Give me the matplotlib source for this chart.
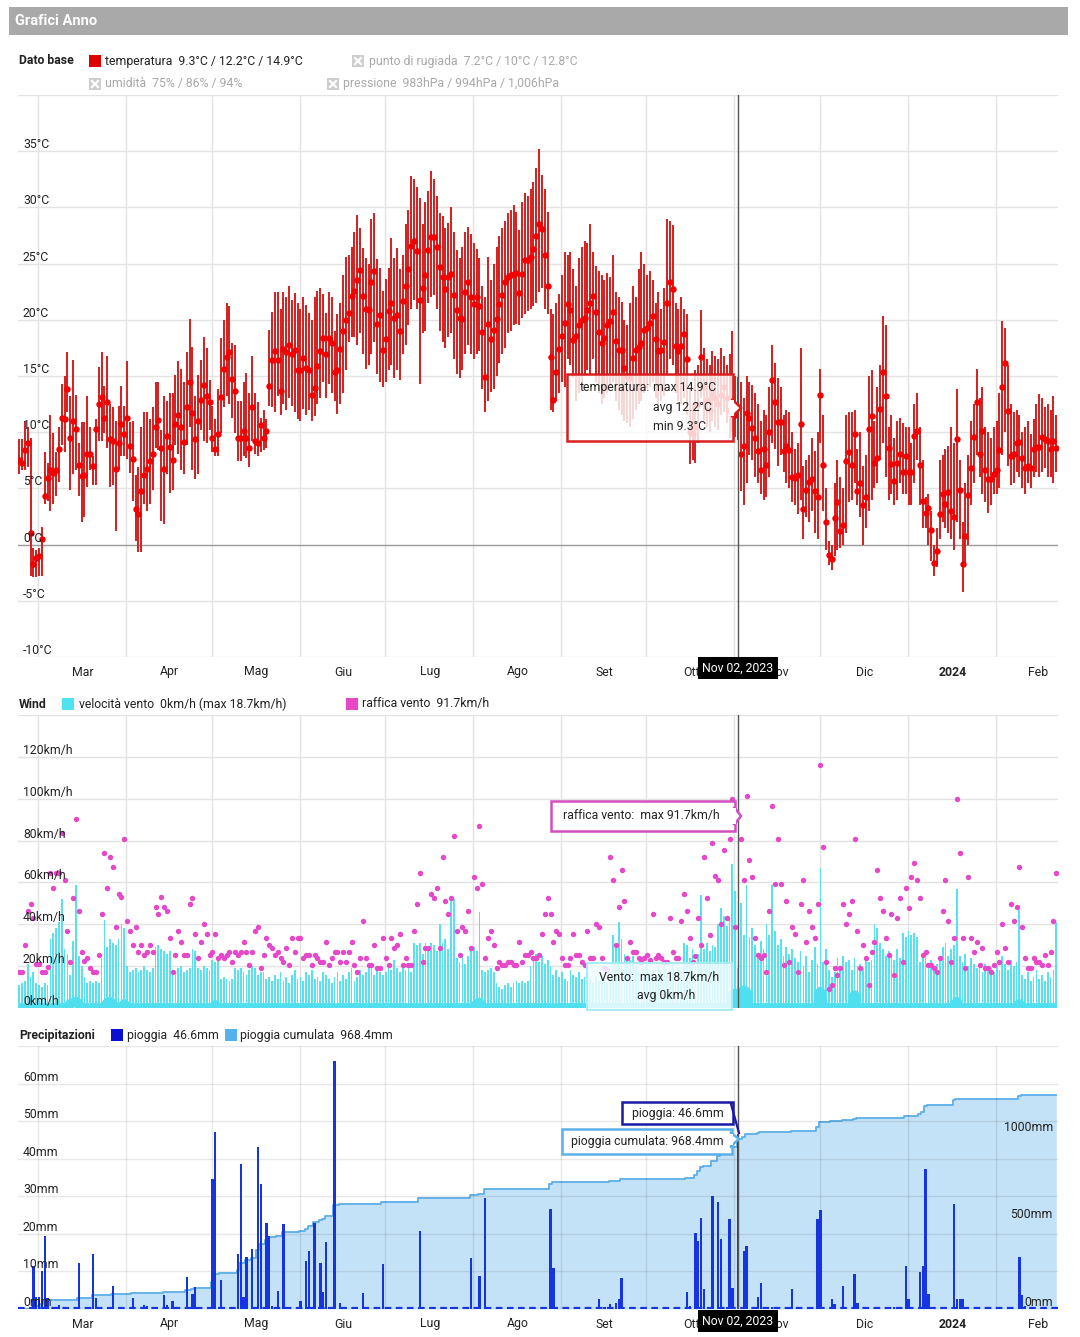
import numpy as np
import matplotlib
matplotlib.use('Agg')
import matplotlib.pyplot as plt
from matplotlib.patches import Rectangle, Polygon
from matplotlib.lines import Line2D

plt.rcParams['font.family'] = ['Roboto', 'DejaVu Sans']

# ---------------- data (day 0 = 22 Feb 2023) ----------------
month_start = [7, 38, 68, 99, 129, 160, 191, 221, 252, 282, 313, 344, 373]
month_label = ['Mar', 'Apr', 'Mag', 'Giu', 'Lug', 'Ago', 'Set', 'Ott', 'Nov', 'Dic', '2024', 'Feb']
cursor_day = 253  # Nov 02, 2023

t_avg = [
    7.5, 7.3, 8.4, 9.0, 1.0, -1.7, -1.2, -1.0, 0.5, 4.3,
    5.9, 6.6, 6.4, 6.6, 8.5, 11.3, 11.2, 13.8, 9.5, 11.0,
    10.3, 7.1, 6.1, 6.2, 8.1, 8.1, 7.0, 10.3, 12.5, 13.1,
    11.3, 12.7, 9.4, 9.2, 6.7, 9.0, 10.7, 9.8, 11.3, 8.8,
    7.6, 3.2, 2.7, 4.8, 6.2, 6.7, 7.4, 8.1, 10.5, 11.1,
    8.6, 6.7, 9.7, 8.7, 7.5, 10.7, 11.5, 10.5, 9.1, 12.2,
    14.5, 11.7, 9.4, 11.0, 12.9, 14.2, 13.2, 12.7, 9.5, 8.5,
    9.8, 13.1, 15.6, 16.7, 17.1, 14.7, 13.7, 9.5, 9.5, 10.1,
    9.5, 8.6, 12.2, 9.2, 9.0, 10.6, 9.5, 10.1, 14.1, 16.4,
    17.2, 16.4, 13.7, 17.4, 17.1, 17.8, 17.0, 17.3, 15.5, 15.5,
    16.6, 15.7, 15.5, 13.3, 13.9, 15.9, 17.2, 18.4, 17.0, 18.4,
    17.9, 15.4, 15.5, 17.4, 19.0, 20.0, 20.6, 22.1, 22.6, 23.5,
    24.4, 22.1, 21.0, 20.9, 23.4, 24.3, 19.6, 20.4, 17.3, 18.3,
    20.8, 21.5, 20.2, 20.4, 19.0, 21.7, 23.0, 24.5, 26.6, 27.0,
    26.1, 21.8, 22.8, 24.0, 26.2, 27.4, 27.4, 26.5, 24.7, 23.8,
    22.7, 23.8, 24.1, 22.2, 20.9, 20.2, 20.1, 22.5, 23.4, 22.0,
    21.4, 22.0, 21.2, 18.9, 14.9, 19.6, 18.3, 19.1, 20.1, 21.4,
    22.2, 23.4, 23.8, 24.0, 24.1, 24.2, 22.4, 24.1, 25.3, 25.3,
    25.6, 26.3, 27.5, 28.5, 28.1, 25.8, 23.0, 16.7, 12.9, 15.4,
    17.4, 18.6, 19.7, 21.4, 20.9, 18.2, 18.6, 19.5, 20.0, 20.2,
    20.9, 21.5, 22.1, 20.7, 18.9, 17.9, 18.4, 19.5, 19.9, 20.7,
    18.1, 17.3, 17.3, 15.7, 15.0, 14.8, 16.6, 17.3, 17.6, 17.9,
    19.1, 19.3, 19.7, 20.3, 18.3, 17.2, 17.3, 18.0, 21.5, 23.4,
    22.7, 17.7, 17.2, 17.7, 18.7, 16.5, 10.0, 9.8, 10.5, 12.5,
    16.7, 14.0, 12.9, 12.0, 13.5, 13.0, 12.5, 13.3, 14.0, 13.0,
    12.0, 12.8, 11.5, 12.2, 8.1, 8.8, 11.7, 11.3, 10.4, 9.5,
    8.3, 6.6, 8.5, 7.1, 10.0, 14.6, 12.7, 10.9, 10.9, 8.3,
    8.8, 8.4, 6.0, 5.9, 6.2, 10.7, 3.2, 4.9, 5.6, 5.8,
    4.8, 4.2, 13.3, 7.1, 2.0, -0.9, -1.3, 2.4, 3.8, 1.2,
    1.7, 7.4, 8.2, 7.1, 9.8, 4.8, 5.5, 3.5, 4.2, 10.3,
    11.4, 7.3, 7.7, 12.1, 15.4, 13.2, 8.6, 7.2, 5.7, 7.3,
    8.1, 6.5, 7.9, 6.5, 6.5, 9.7, 10.1, 7.1, 3.9, 2.8,
    3.3, 1.3, -1.6, -0.6, 2.7, 4.5, 3.6, 4.7, 3.0, 2.5,
    9.4, 4.9, -1.7, 0.8, 4.4, 6.8, 9.6, 12.7, 8.1, 10.1,
    6.6, 5.8, 5.8, 6.3, 6.6, 8.4, 14.0, 16.2, 11.9, 7.9,
    8.1, 9.0, 9.1, 7.7, 6.8, 7.0, 6.8, 8.5, 8.7, 8.7,
    9.6, 9.4, 9.2, 8.5, 9.2, 8.6]

t_max = [
    9.4, 9.4, 10.9, 10.5, 9.5, -0.3, -0.5, -0.3, 1.6, 8.2,
    7.3, 11.5, 9.9, 8.2, 10.5, 14.3, 15.0, 17.1, 13.2, 16.4,
    13.3, 9.0, 10.9, 10.9, 13.2, 10.5, 7.9, 11.2, 15.8, 17.1,
    14.1, 16.8, 12.5, 12.2, 11.0, 12.3, 14.1, 12.3, 16.3, 10.9,
    11.0, 6.2, 6.9, 10.5, 11.8, 11.8, 11.2, 12.2, 14.5, 14.5,
    10.2, 13.2, 12.8, 13.5, 13.5, 15.1, 16.3, 15.6, 14.5, 17.1,
    20.1, 17.6, 13.2, 15.1, 16.4, 18.5, 17.5, 14.6, 12.3, 11.2,
    13.8, 18.4, 20.0, 21.5, 21.2, 17.9, 17.8, 12.8, 12.8, 14.5,
    15.3, 13.5, 16.8, 13.5, 12.7, 11.3, 12.0, 11.2, 19.1, 20.7,
    22.5, 22.5, 21.0, 22.5, 22.0, 23.0, 21.8, 22.4, 21.5, 21.0,
    22.0, 21.3, 20.6, 20.0, 22.0, 22.6, 22.8, 22.3, 20.6, 22.5,
    22.0, 19.0, 20.5, 21.5, 24.0, 25.6, 25.8, 26.5, 27.8, 29.3,
    28.2, 26.4, 25.5, 25.0, 29.0, 29.5, 25.4, 24.6, 22.6, 23.6,
    24.6, 27.3, 25.5, 26.4, 24.5, 25.8, 28.5, 29.8, 32.8, 32.5,
    31.8, 30.8, 28.5, 30.5, 31.5, 33.2, 32.5, 31.0, 29.5, 29.2,
    28.2, 28.6, 30.0, 27.8, 26.2, 25.5, 26.5, 27.8, 28.3, 27.6,
    26.8, 26.3, 25.5, 23.0, 22.0, 25.6, 23.5, 25.0, 26.5, 27.5,
    28.2, 28.8, 29.5, 29.8, 30.2, 29.6, 28.0, 30.5, 31.3, 31.0,
    31.6, 32.3, 33.5, 35.2, 32.9, 31.6, 29.6, 21.0, 20.5, 21.5,
    22.3, 24.0, 26.0, 25.8, 26.0, 24.5, 23.0, 25.5, 26.5, 27.0,
    26.8, 28.5, 26.0, 24.8, 24.3, 24.0, 23.5, 24.2, 23.8, 25.8,
    22.5, 22.0, 21.6, 20.0, 19.5, 21.5, 23.0, 22.0, 24.5, 26.0,
    25.0, 24.0, 24.3, 23.5, 21.5, 22.5, 21.0, 22.8, 29.0, 28.8,
    28.4, 21.5, 21.0, 22.0, 21.0, 20.5, 14.0, 12.5, 15.5, 16.0,
    20.9, 17.5, 16.5, 16.0, 17.2, 16.8, 16.5, 17.5, 16.8, 16.0,
    17.0, 19.0, 15.0, 14.9, 14.5, 13.0, 15.0, 14.5, 14.2, 13.5,
    12.5, 11.0, 12.0, 11.5, 14.0, 17.8, 16.2, 14.8, 14.0, 11.5,
    12.0, 11.8, 10.0, 8.5, 9.0, 17.5, 7.0, 7.5, 8.0, 9.5,
    8.3, 10.0, 15.6, 11.5, 5.0, 0.3, 0.0, 5.5, 7.5, 6.0,
    5.0, 11.5, 11.8, 11.8, 12.0, 8.5, 10.0, 7.0, 8.0, 15.0,
    15.5, 11.0, 14.0, 16.0, 20.3, 19.5, 10.5, 11.5, 9.5, 11.0,
    11.3, 10.8, 10.5, 10.5, 9.0, 12.5, 13.5, 10.5, 7.5, 4.2,
    4.5, 3.0, 0.0, 1.5, 7.5, 8.0, 8.5, 8.8, 10.5, 9.0,
    13.8, 7.5, 2.0, 5.5, 8.0, 11.0, 12.5, 15.6, 13.0, 14.0,
    10.5, 10.0, 9.5, 10.5, 11.0, 13.5, 19.9, 19.3, 16.0, 12.5,
    11.8, 12.0, 11.5, 10.0, 10.5, 11.0, 9.8, 11.2, 12.5, 13.4,
    13.0, 12.2, 12.5, 12.0, 13.2, 11.5]

t_min = [
    6.3, 6.6, 6.6, 6.9, -2.8, -2.9, -2.9, -2.8, -2.8, 3.6,
    3.9, 3.0, 3.6, 4.3, 5.6, 8.9, 8.2, 11.8, 4.9, 6.3,
    6.6, 4.3, 2.0, 2.5, 5.1, 6.6, 5.3, 5.3, 9.2, 9.2,
    9.9, 8.6, 5.1, 5.3, 1.2, 6.6, 7.9, 7.9, 7.6, 6.4,
    3.9, 0.3, -0.7, -0.7, 3.6, 3.0, 3.6, 4.9, 8.6, 8.4,
    2.1, 1.8, 6.3, 4.6, 4.9, 8.9, 8.1, 6.6, 6.3, 8.9,
    10.5, 6.6, 5.8, 6.3, 10.2, 9.2, 9.0, 10.2, 8.2, 7.9,
    7.9, 9.9, 12.2, 13.2, 12.5, 11.3, 9.9, 7.4, 7.4, 7.9,
    7.7, 6.9, 9.2, 8.1, 7.9, 8.2, 8.4, 8.6, 12.3, 12.2,
    11.8, 13.2, 11.5, 12.5, 12.0, 13.0, 12.3, 11.8, 11.2, 11.0,
    12.1, 11.5, 12.0, 11.0, 11.4, 12.5, 13.0, 14.5, 13.0, 14.3,
    13.5, 12.8, 11.6, 12.5, 13.5, 15.5, 18.0, 18.5, 18.5, 17.8,
    18.8, 17.0, 15.6, 16.0, 17.0, 18.0, 15.2, 14.5, 14.0, 14.5,
    15.5, 16.0, 14.8, 15.5, 14.6, 17.0, 17.8, 19.5, 21.0, 21.8,
    21.0, 14.3, 18.8, 19.0, 21.5, 22.0, 22.2, 21.0, 19.0, 18.0,
    17.5, 18.5, 18.8, 16.5, 15.2, 14.8, 15.5, 17.0, 17.8, 17.0,
    16.5, 17.0, 17.2, 13.8, 11.8, 12.8, 13.6, 13.8, 15.0, 16.2,
    17.0, 17.5, 18.8, 19.0, 19.5, 19.6, 19.5, 20.2, 20.5, 20.8,
    21.0, 21.2, 21.5, 22.5, 22.8, 21.0, 20.5, 12.0, 11.8, 12.8,
    13.5, 14.5, 14.0, 16.5, 16.0, 14.8, 12.8, 13.5, 14.0, 15.0,
    15.5, 15.2, 16.5, 14.5, 13.5, 12.5, 13.0, 13.5, 14.0, 14.5,
    12.8, 12.0, 11.5, 11.0, 10.8, 10.5, 11.2, 12.0, 12.5, 12.8,
    13.5, 13.8, 14.0, 14.5, 13.0, 12.5, 12.8, 13.2, 15.0, 16.5,
    16.0, 13.5, 12.8, 12.5, 13.0, 11.5, 7.2, 7.5, 7.3, 9.0,
    13.0, 11.0, 10.5, 10.0, 11.0, 10.5, 10.2, 11.5, 11.8, 10.8,
    9.5, 10.0, 9.6, 9.3, 4.8, 3.5, 5.5, 8.0, 7.5, 6.0,
    5.5, 4.5, 4.0, 4.2, 6.0, 9.0, 8.5, 7.0, 8.0, 6.5,
    5.5, 5.0, 3.8, 3.5, 2.7, 4.0, 0.5, 2.5, 2.0, 3.0,
    1.0, 0.5, 9.0, 3.0, -0.5, -1.8, -2.3, -1.0, -0.5, -0.3,
    0.0, 1.0, 3.8, 4.0, 5.5, 3.5, 2.5, 0.0, 1.5, 3.0,
    4.0, 5.0, 5.5, 7.5, 9.0, 6.0, 4.0, 4.5, 3.5, 4.0,
    5.5, 4.5, 4.5, 3.5, 3.5, 5.5, 7.5, 3.5, 1.5, 1.5,
    0.0, -1.5, -2.8, -2.0, 0.5, 2.0, 1.5, 1.0, 0.5, -0.5,
    2.0, 0.5, -4.2, -1.8, 0.0, 3.5, 5.5, 8.0, 6.0, 4.5,
    3.8, 2.8, 3.5, 4.5, 4.5, 5.0, 8.0, 10.0, 7.0, 5.3,
    5.5, 6.5, 6.0, 5.0, 4.5, 5.5, 5.0, 6.0, 6.5, 6.0,
    6.5, 6.8, 6.0, 6.0, 5.5, 6.5]

wind_max = [
    11, 12, 13, 21, 15, 17, 12, 11, 10, 12,
    11, 33, 36, 38, 41, 52, 28, 26, 16, 32,
    59, 25, 20, 15, 12, 13, 12, 13, 12, 24,
    42, 29, 33, 31, 30, 33, 40, 38, 20, 17,
    18, 19, 17, 18, 20, 18, 17, 19, 29, 30,
    28, 27, 26, 27, 18, 16, 19, 20, 17, 18,
    19, 28, 27, 19, 18, 20, 19, 18, 23, 22,
    23, 14, 15, 14, 13, 14, 19, 18, 19, 17,
    16, 18, 20, 19, 16, 17, 17, 14, 15, 13,
    16, 14, 17, 13, 15, 12, 16, 18, 14, 15,
    13, 17, 16, 18, 14, 15, 13, 17, 16, 14,
    12, 15, 17, 13, 16, 14, 17, 19, 13, 15,
    18, 16, 17, 20, 19, 16, 18, 17, 16, 17,
    20, 18, 23, 19, 17, 21, 18, 20, 17, 31,
    30, 31, 26, 31, 28, 31, 30, 27, 40, 31,
    33, 28, 53, 52, 24, 22, 26, 21, 25, 28,
    29, 27, 46, 18, 17, 18, 19, 17, 12, 10,
    9, 11, 12, 10, 12, 13, 12, 13, 12, 13,
    20, 24, 26, 22, 25, 21, 23, 20, 16, 18,
    15, 17, 14, 13, 18, 16, 15, 17, 14, 15,
    13, 14, 12, 15, 13, 16, 14, 12, 15, 35,
    30, 41, 33, 26, 24, 23, 25, 20, 18, 19,
    17, 21, 16, 18, 15, 19, 17, 20, 16, 18,
    21, 17, 19, 18, 31, 30, 24, 28, 20, 26,
    54, 28, 31, 27, 30, 29, 40, 48, 44, 39,
    42, 69, 56, 19, 50, 35, 59, 34, 38, 30,
    26, 32, 28, 40, 35, 59, 37, 30, 33, 25,
    29, 26, 28, 24, 22, 27, 20, 25, 17, 23,
    29, 21, 67, 22, 28, 18, 15, 17, 24, 20,
    25, 22, 23, 18, 24, 20, 21, 19, 25, 22,
    23, 40, 38, 31, 28, 25, 27, 25, 23, 28,
    24, 36, 34, 37, 35, 36, 34, 22, 26, 24,
    20, 23, 18, 21, 25, 29, 31, 25, 28, 30,
    57, 25, 22, 26, 20, 24, 21, 19, 20, 17,
    21, 18, 19, 17, 20, 18, 25, 21, 18, 23,
    20, 22, 47, 16, 14, 17, 13, 15, 18, 14,
    16, 13, 17, 15, 18, 41]

gust = [
    17.4, 17.4, 30.1, 46.4, 49.7, 42.9, 20.9, 20.9, 17.4, 17.4,
    19.8, 64.7, 57.5, 64.7, 64.7, 83.8, 61.2, 37.0, 22.1, 52.7,
    90.2, 46.4, 26.9, 22.6, 24.1, 19.0, 17.4, 17.4, 25.3, 44.9,
    73.9, 57.5, 72.3, 67.6, 38.6, 54.5, 52.9, 80.6, 41.7, 37.0,
    30.1, 38.6, 26.9, 30.1, 25.3, 26.9, 30.1, 26.9, 48.1, 44.9,
    52.9, 48.1, 46.5, 33.3, 17.4, 25.3, 37.0, 31.7, 25.3, 25.3,
    49.6, 52.7, 35.4, 23.7, 31.7, 40.0, 35.4, 25.3, 26.9, 35.4,
    24.1, 25.3, 24.1, 25.3, 26.9, 22.1, 26.9, 25.3, 26.9, 31.7,
    26.9, 20.6, 26.9, 37.0, 38.6, 19.0, 25.3, 33.3, 30.1, 28.5,
    25.3, 26.9, 24.1, 22.1, 28.5, 20.6, 33.3, 26.9, 33.3, 33.3,
    24.1, 25.3, 25.3, 20.6, 25.3, 23.7, 22.1, 22.1, 31.7, 20.6,
    24.1, 26.9, 26.9, 22.1, 26.9, 22.1, 26.9, 31.7, 20.6, 17.4,
    24.1, 41.7, 24.1, 20.6, 20.6, 30.1, 19.0, 19.0, 33.3, 24.1,
    20.6, 33.3, 28.5, 30.1, 35.4, 20.6, 24.1, 20.6, 20.6, 37.0,
    49.6, 64.4, 22.1, 28.5, 28.5, 54.3, 52.7, 57.5, 28.5, 72.3,
    51.3, 44.9, 52.7, 82.2, 37.0, 25.3, 38.6, 37.0, 46.4, 28.5,
    62.8, 57.5, 87.0, 59.1, 24.1, 33.3, 37.0, 30.1, 19.0, 22.1,
    20.6, 20.6, 22.1, 22.1, 20.6, 20.6, 31.7, 22.1, 25.3, 25.3,
    26.9, 23.7, 24.1, 25.3, 35.4, 44.9, 52.7, 44.9, 31.7, 37.0,
    35.4, 23.7, 20.6, 20.6, 24.1, 35.4, 25.3, 25.3, 22.1, 20.6,
    37.0, 23.7, 23.7, 40.0, 38.6, 23.7, 19.0, 18.0, 72.3, 61.2,
    30.1, 48.1, 66.0, 51.1, 23.7, 31.7, 26.9, 26.9, 23.7, 22.1,
    23.7, 25.3, 23.0, 44.9, 23.7, 25.3, 23.7, 22.1, 22.0, 43.2,
    26.9, 23.7, 24.0, 41.7, 54.3, 46.4, 33.3, 22.0, 25.0, 43.2,
    30.0, 72.3, 52.7, 35.0, 78.7, 63.1, 61.2, 40.0, 75.5, 43.2,
    80.6, 99.7, 38.6, 91.7, 80.6, 61.2, 101.3, 70.7, 62.8, 33.3,
    25.3, 24.0, 25.3, 17.4, 46.4, 96.6, 59.1, 80.6, 59.1, 20.6,
    51.1, 22.1, 38.6, 35.4, 17.4, 49.6, 61.2, 31.7, 46.4, 38.6,
    33.3, 49.6, 116.2, 77.1, 22.1, 8.9, 11.0, 19.0, 15.8, 19.0,
    49.6, 40.0, 44.9, 51.1, 80.6, 37.0, 19.0, 30.1, 23.7, 11.0,
    26.9, 31.7, 66.0, 52.7, 46.4, 33.3, 25.3, 44.9, 15.8, 43.2,
    52.7, 22.1, 57.5, 48.0, 62.8, 69.2, 61.2, 52.7, 25.3, 26.9,
    20.6, 20.6, 19.0, 17.4, 23.7, 46.4, 61.2, 41.7, 22.1, 33.3,
    99.7, 73.9, 33.3, 19.0, 62.8, 33.3, 26.9, 31.7, 20.6, 28.5,
    19.0, 19.0, 17.4, 20.6, 26.9, 22.1, 40.0, 28.5, 22.1, 49.6,
    41.7, 48.1, 67.6, 38.6, 23.7, 19.0, 19.0, 23.7, 22.1, 22.1,
    20.6, 25.3, 20.6, 26.9, 41.7, 64.4]

wind_avg_day = [18, 19, 20, 21, 31, 32, 33, 37, 69, 161, 162, 251, 252, 255, 256, 282, 294, 330, 352]
wind_avg_val = [2.0, 2.5, 3.0, 2.0, 2.5, 3.0, 2.0, 2.0, 1.5, 2.0, 2.5, 6.0, 7.0, 8.5, 7.5, 7.8, 6.2, 3.0, 2.0]

rain_day = [5, 6, 7, 8, 9, 10, 14, 21, 26, 27, 33, 40, 44, 45, 51, 52, 54, 59, 61, 62,
            68, 69, 71, 72, 77, 78, 79, 80, 82, 84, 85, 87, 88, 89, 91, 93, 99, 101, 102, 104,
            106, 107, 108, 109, 111, 113, 121, 128, 130, 141, 152, 159, 162, 164, 176, 187, 188,
            204, 206, 208, 210, 211, 212, 235, 236, 238, 239, 240, 241, 244, 246, 247, 249, 250,
            251, 253, 255, 256, 260, 261, 265, 272, 278, 281, 282, 286, 287, 290, 294, 295, 308,
            312, 313, 317, 318, 319, 320, 329, 330, 331, 332, 352, 353, 354]
rain_mm = [11.4, 3.3, 3.3, 10.2, 19.4, 2.8, 1.1, 12.2, 14.6, 2.8, 6.2, 2.8, 1.1, 0.8, 3.7, 1.1, 2.2, 8.6, 4.0, 5.9,
           34.5, 47.0, 7.7, 0.4, 14.6, 38.5, 3.3, 13.8, 16.1, 43.0, 33.2, 23.0, 19.4, 0.8, 4.9, 22.5, 2.1, 12.9, 15.5, 23.0,
           12.2, 4.6, 17.9, 0.4, 66.0, 1.7, 4.2, 11.9, 0.4, 20.8, 0.4, 13.5, 8.8, 29.5, 0.4, 26.5, 10.8,
           2.7, 0.6, 1.3, 1.7, 2.6, 8.2, 4.6, 0.9, 20.1, 18.2, 24.3, 5.2, 30.0, 28.5, 18.7, 0.4, 24.0,
           5.7, 46.6, 15.4, 16.9, 3.3, 6.8, 0.4, 5.2, 0.4, 24.0, 26.4, 2.6, 1.3, 6.1, 9.3, 1.5, 0.4,
           11.4, 2.6, 9.9, 11.4, 37.2, 4.0, 27.9, 2.6, 2.6, 2.6, 13.8, 3.7, 0.8]

N = len(t_avg)
assert N == 366 and len(t_max) == N and len(t_min) == N and len(wind_max) == N and len(gust) == N
assert len(rain_day) == len(rain_mm) and len(wind_avg_day) == len(wind_avg_val)
days = np.arange(N)
rain = np.zeros(N)
rain[rain_day] = rain_mm
rain_cum = np.cumsum(rain)
wind_avg = np.zeros(N)
wind_avg[wind_avg_day] = wind_avg_val

# ---------------- figure ----------------
W, H = 1080, 1337
fig = plt.figure(figsize=(W / 100, H / 100), dpi=100)
fig.patch.set_facecolor('white')


def fx(x):
    return x / W


def fy(y):
    return 1 - y / H


def ftext(x, y, s, **kw):
    kw.setdefault('zorder', 20)
    return fig.text(fx(x), fy(y), s, **kw)


def frect(x0, y0, x1, y1, **kw):
    kw.setdefault('zorder', 15)
    r = Rectangle((fx(x0), fy(y1)), (x1 - x0) / W, (y1 - y0) / H, transform=fig.transFigure, **kw)
    fig.add_artist(r)
    return r


def fpoly(pts, **kw):
    kw.setdefault('zorder', 16)
    p = Polygon([(fx(a), fy(b)) for a, b in pts], closed=True, transform=fig.transFigure, **kw)
    fig.add_artist(p)
    return p


X0, X1 = 18, 1058
XLIM = (-0.4, N - 0.4)
GRID = '#e3e3e3'
TXT = '#222222'
FS = 8.8


def make_axes(top, bottom):
    ax = fig.add_axes([fx(X0), fy(bottom), (X1 - X0) / W, (bottom - top) / H])
    ax.set_xlim(*XLIM)
    for s in ax.spines.values():
        s.set_visible(False)
    ax.set_xticks([])
    ax.set_yticks([])
    ax.patch.set_visible(False)
    return ax


def vgrid(ax):
    for m in month_start[:-1]:
        ax.axvline(m - 0.3, color=GRID, lw=1.0, zorder=0.5)


def month_labels(ax, yaxes):
    for i, lab in enumerate(month_label):
        mid = (month_start[i] + month_start[i + 1]) / 2
        ax.text(mid, yaxes, lab, transform=ax.get_xaxis_transform(), ha='center', va='center',
                fontsize=FS, color=TXT, fontweight='bold' if lab == '2024' else 'normal', clip_on=False)


def date_box(ax, yaxes):
    ax.text(cursor_day, yaxes, 'Nov 02, 2023', transform=ax.get_xaxis_transform(), ha='center',
            va='center', fontsize=FS, color='white', zorder=30, clip_on=False,
            bbox=dict(boxstyle='square,pad=0.38', fc='black', ec='none'))


def ylabels(ax, vals, fmt, xaxes=0.0048):
    for v in vals:
        ax.text(xaxes, v, fmt.format(v), transform=ax.get_yaxis_transform(), ha='left', va='bottom',
                fontsize=FS, color=TXT, zorder=6)


# ---- title bar ----
frect(9, 7, 1068, 35, fc='#a9a9a9', ec='none', zorder=1)
ftext(15, 21, 'Grafici Anno', color='white', fontsize=10.5, fontweight='bold', va='center', ha='left')


def disabled_icon(x, y):
    frect(x, y - 6, x + 12, y + 6, fc='#cdcdcd', ec='none')
    fig.add_artist(Line2D([fx(x + 3), fx(x + 9)], [fy(y - 3), fy(y + 3)], transform=fig.transFigure,
                          color='white', lw=1.6, zorder=17))
    fig.add_artist(Line2D([fx(x + 3), fx(x + 9)], [fy(y + 3), fy(y - 3)], transform=fig.transFigure,
                          color='white', lw=1.6, zorder=17))


# ---- legend: temperature ----
ftext(19, 61, 'Dato base', fontsize=FS, fontweight='bold', color=TXT, va='center')
frect(89, 55, 101, 67, fc='#e00000', ec='none')
ftext(105, 61, 'temperatura  9.3°C / 12.2°C / 14.9°C', fontsize=FS, color=TXT, va='center')
disabled_icon(352, 61)
ftext(369, 61, 'punto di rugiada  7.2°C / 10°C / 12.8°C', fontsize=FS, color='#a8a8a8', va='center')
disabled_icon(89, 84)
ftext(105, 84, 'umidità  75% / 86% / 94%', fontsize=FS, color='#a8a8a8', va='center')
disabled_icon(327, 84)
ftext(343, 84, 'pressione  983hPa / 994hPa / 1,006hPa', fontsize=FS, color='#a8a8a8', va='center')

# ---- temperature panel ----
T_TOP, T_BOT = 95, 657
axT = make_axes(T_TOP, T_BOT)
axT.set_ylim(-10, 40)
for v in range(-10, 45, 5):
    axT.axhline(v, color='#9a9a9a' if v == 0 else GRID, lw=1.0, zorder=0.6)
vgrid(axT)
ylabels(axT, range(-10, 40, 5), '{}°C')
axT.vlines(days, t_min, t_max, colors='#d42424', lw=1.45, zorder=2)
axT.plot(days, t_avg, 'o', color='#f20000', ms=4.6, mec='none', zorder=3)
axT.axvline(cursor_day, color='#555555', lw=1.0, zorder=4)
month_labels(axT, -(672 - T_BOT) / (T_BOT - T_TOP))
date_box(axT, -(668 - T_BOT) / (T_BOT - T_TOP))

# temperature tooltip
frect(567, 374, 733, 441, fc=(1, 1, 1, 0.82), ec='#d81e1e', lw=1.8)
fpoly([(732, 399), (741, 408), (732, 417)], fc='white', ec='#d81e1e', lw=1.8)
frect(729, 400, 733.5, 416, fc='white', ec='none', zorder=17)
ftext(580, 388, 'temperatura:', fontsize=FS, color=TXT, va='center')
ftext(653, 388, 'max 14.9°C', fontsize=FS, color=TXT, va='center')
ftext(653, 407, 'avg 12.2°C', fontsize=FS, color=TXT, va='center')
ftext(653, 426, 'min 9.3°C', fontsize=FS, color=TXT, va='center')

# ---- legend: wind ----
ftext(19, 704, 'Wind', fontsize=FS, fontweight='bold', color=TXT, va='center')
frect(62, 698, 74, 710, fc='#4fe2ef', ec='none')
ftext(79, 704, 'velocità vento  0km/h (max 18.7km/h)', fontsize=FS, color=TXT, va='center')
frect(346, 698, 358, 710, fc='#ea46c8', ec='none')
ftext(362, 704, 'raffica vento  91.7km/h', fontsize=FS, color=TXT, va='center')

# ---- wind panel ----
W_TOP, W_BOT = 715, 1008
axW = make_axes(W_TOP, W_BOT)
axW.set_ylim(0, 140)
for v in range(0, 160, 20):
    axW.axhline(v, color=GRID, lw=1.0, zorder=0.6)
vgrid(axW)
ylabels(axW, range(0, 140, 20), '{}km/h')
axW.bar(days, wind_max, width=0.62, color='#58e2ef', lw=0, zorder=2)
axW.plot(days, wind_avg, color='#4fdfee', lw=7, zorder=2.5, solid_capstyle='butt')
axW.plot(days, gust, 'o', color='#e548c8', ms=3.9, mec='none', zorder=3)
axW.axvline(cursor_day, color='#555555', lw=1.0, zorder=4)

# wind tooltips
frect(551, 801, 735, 831, fc=(1, 1, 1, 0.9), ec='#d24fc0', lw=1.8)
fpoly([(734, 807), (741, 816), (734, 825)], fc='white', ec='#d24fc0', lw=1.8)
frect(731, 808, 735.5, 824, fc='white', ec='none', zorder=17)
ftext(563, 816, 'raffica vento:  max 91.7km/h', fontsize=FS, color=TXT, va='center')
frect(587, 963, 732, 1010, fc=(0.94, 0.99, 1.0, 0.85), ec='#a6ecf4', lw=1.4)
ftext(599, 977, 'Vento:  max 18.7km/h', fontsize=FS, color=TXT, va='center')
ftext(637, 995, 'avg 0km/h', fontsize=FS, color=TXT, va='center')

# ---- legend: precipitation ----
ftext(19, 1035, 'Precipitazioni', fontsize=FS, fontweight='bold', color=TXT, va='center')
frect(111, 1029, 123, 1041, fc='#0a10d2', ec='none')
ftext(127, 1035, 'pioggia  46.6mm', fontsize=FS, color=TXT, va='center')
frect(225, 1029, 237, 1041, fc='#56b2ec', ec='none')
ftext(240, 1035, 'pioggia cumulata  968.4mm', fontsize=FS, color=TXT, va='center')

# ---- precipitation panel ----
P_TOP, P_BOT = 1046, 1309
axC = make_axes(P_TOP, P_BOT)
axC.set_ylim(0, 1500)
axC.set_zorder(1)
axC.fill_between(days, rain_cum, step='mid', color='#c4e2f7', lw=0, zorder=1)
axC.step(days, rain_cum, where='mid', color='#5aaee8', lw=1.3, zorder=1.5)

axP = make_axes(P_TOP, P_BOT)
axP.set_zorder(2)
axP.set_ylim(0, 70)
for v in range(0, 80, 10):
    axP.axhline(v, color='black', alpha=0.09, lw=1.0, zorder=0.6)
for m in month_start[:-1]:
    axP.axvline(m - 0.3, color='black', alpha=0.09, lw=1.0, zorder=0.5)
ylabels(axP, range(0, 70, 10), '{}mm')
for v in (0, 500, 1000):
    axC.text(0.995, v, f'{v}mm', transform=axC.get_yaxis_transform(), ha='right', va='bottom',
             fontsize=FS, color=TXT, zorder=6)
axP.bar(days, rain, width=0.82, color='#1634e0', lw=0, zorder=2)
axP.axhline(0.25, color='#1634e0', lw=1.6, ls=(0, (3, 2)), zorder=2.2)
axP.axvline(cursor_day, color='#555555', lw=1.0, zorder=4)
month_labels(axP, -(1324 - P_BOT) / (P_BOT - P_TOP))
date_box(axP, -(1321 - P_BOT) / (P_BOT - P_TOP))

# precipitation tooltips
frect(622, 1102, 733, 1124, fc='white', ec='#1a1aa6', lw=1.8)
fig.add_artist(Line2D([fx(731), fx(739)], [fy(1104), fy(1133)], transform=fig.transFigure,
                      color='#1a1aa6', lw=1.6, zorder=16))
ftext(632, 1113, 'pioggia: 46.6mm', fontsize=FS, color=TXT, va='center')
frect(562, 1129, 732, 1154, fc='white', ec='#5ab0e6', lw=1.8)
fpoly([(731, 1133), (739, 1139), (731, 1146)], fc='white', ec='#5ab0e6', lw=1.8)
frect(728, 1134, 732.5, 1145, fc='white', ec='none', zorder=17)
ftext(571, 1141, 'pioggia cumulata: 968.4mm', fontsize=FS, color=TXT, va='center')

fig.savefig('out.png', dpi=100, facecolor='white')
